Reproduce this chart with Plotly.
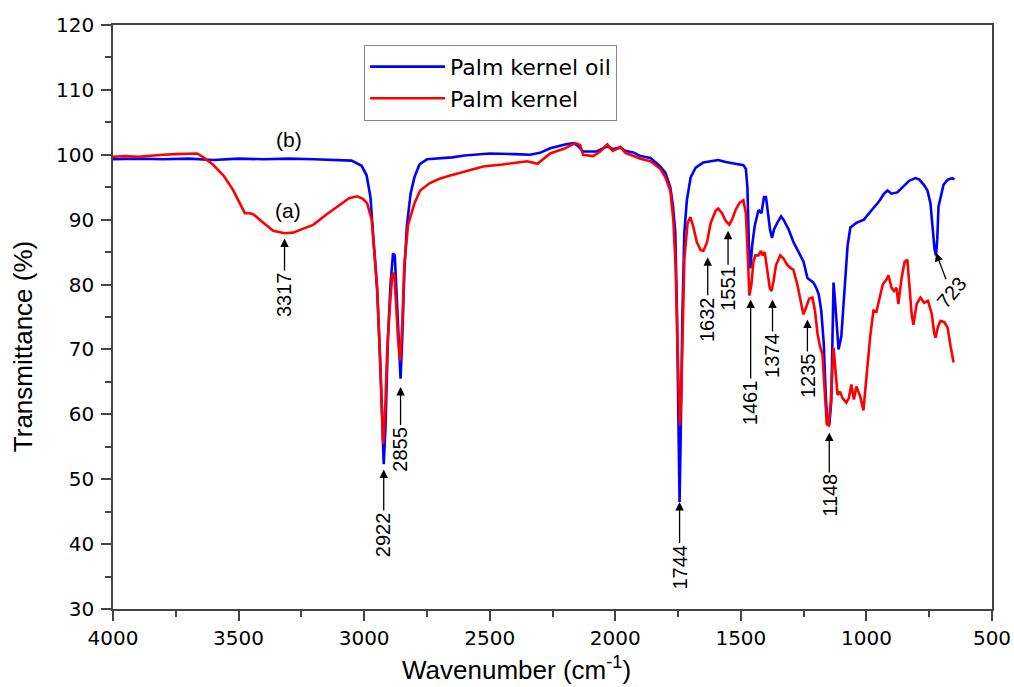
import plotly.graph_objects as go

# ---- Data ----
oil_wn = [4000, 3900, 3800, 3700, 3600, 3500, 3400, 3300, 3200, 3100, 3050, 3010, 2990, 2975, 2960,
          2948, 2936, 2928, 2922, 2915, 2905, 2895, 2885, 2878, 2870, 2862, 2855, 2848, 2840, 2830,
          2815, 2800, 2780, 2750, 2700, 2650, 2600, 2500, 2400, 2340, 2300, 2259, 2200, 2167, 2150,
          2128, 2075, 2050, 2032, 2010, 1980, 1960, 1926, 1900, 1860, 1821, 1800, 1781, 1770, 1761,
          1754, 1749, 1744, 1739, 1733, 1725, 1715, 1700, 1680, 1650, 1620, 1590, 1560, 1520, 1490,
          1480, 1474, 1468, 1462, 1455, 1445, 1430, 1418, 1408, 1400, 1392, 1384, 1376, 1368, 1355,
          1340, 1330, 1310, 1290, 1270, 1250, 1235, 1220, 1211, 1200, 1190, 1180, 1170, 1162, 1155,
          1148, 1140, 1135, 1131, 1126, 1120, 1111, 1100, 1090, 1075, 1064, 1040, 1010, 990, 972,
          950, 930, 916, 900, 877, 850, 830, 805, 790, 770, 757, 745, 735, 729, 723, 718, 713, 700,
          693, 675, 657, 650]
oil_t = [99.3, 99.4, 99.3, 99.4, 99.2, 99.4, 99.3, 99.4, 99.3, 99.2, 99.1, 98.3, 96.8, 93.5, 86,
         79, 68, 58, 52.3, 58, 72, 80, 84.8, 84.5, 78, 70, 65.5, 72, 82, 89,
         94, 96.5, 98.5, 99.3, 99.4, 99.6, 99.9, 100.2, 100.1, 100, 100.3, 101, 101.6, 101.8, 101.4,
         100.5, 100.5, 100.9, 101.3, 100.9, 101.1, 100.6, 100.3, 99.8, 99.5, 98.2, 97.2, 95, 92, 88,
         75, 60, 46.5, 58, 75, 88, 93, 96.5, 98, 98.8, 99, 99.2, 98.9, 98.6, 98.4,
         97.8, 95, 86, 82.5, 86, 89, 91.5, 91, 93.5, 93.5, 91, 88.5, 87.2, 88.5, 89.5,
         90.5, 90, 88.5, 86.5, 85, 83.5, 81, 80.5, 80.3, 79.5, 78.5, 76, 71, 63, 58.5,
         58.3, 62, 72, 80.3, 78, 74, 70, 72, 78, 86, 88.8, 89.5, 90, 91, 91.8,
         92.8, 94, 94.5, 94, 94.2, 95.3, 96, 96.4, 96.2, 95.3, 94.5, 92.5, 88.5, 85.5, 84.5, 87, 92, 94.5,
         95.4, 96.2, 96.4, 96.2]

kern_wn = [4000, 3950, 3900, 3850, 3800, 3750, 3700, 3665, 3640, 3602, 3560, 3522, 3495, 3475, 3455,
           3440, 3410, 3380, 3362, 3317, 3283, 3250, 3203, 3150, 3100, 3060, 3028, 3005, 2988, 2970,
           2955, 2948, 2938, 2930, 2924, 2917, 2908, 2897, 2888, 2880, 2872, 2864, 2856, 2848, 2840,
           2825, 2800, 2777, 2740, 2700, 2657, 2600, 2526, 2450, 2380, 2351, 2310, 2259, 2200, 2159,
           2140, 2128, 2088, 2060, 2032, 2010, 1980, 1960, 1940, 1900, 1860, 1820, 1800, 1781, 1769,
           1760, 1752, 1746, 1743, 1738, 1732, 1725, 1712, 1701, 1690, 1675, 1660, 1649, 1635, 1620,
           1600, 1590, 1575, 1560, 1546, 1535, 1520, 1505, 1490, 1480, 1472, 1466, 1458, 1450, 1442,
           1430, 1420, 1414, 1405, 1395, 1385, 1378, 1370, 1360, 1343, 1330, 1315, 1300, 1291, 1275,
           1260, 1251, 1240, 1228, 1215, 1205, 1195, 1185, 1175, 1165, 1158, 1150, 1142, 1131, 1125,
           1115, 1105, 1095, 1080, 1070, 1060, 1050, 1040, 1025, 1012, 1000, 985, 972, 960, 950,
           935, 920, 912, 900, 890, 880, 873, 860, 848, 837, 826, 820, 813, 800, 785,
           770, 755, 740, 730, 725, 715, 705, 690, 677, 665, 653]
kern_t = [99.7, 99.8, 99.7, 99.9, 100, 100.1, 100.2, 100.2, 99.6, 98.5, 96.8, 94.6, 92.5, 91, 91,
          90.8, 89.8, 88.8, 88.3, 87.9, 88, 88.5, 89.2, 90.8, 92.2, 93.3, 93.6, 93.2, 92.5, 90,
          83, 79.5, 70, 62, 55.4, 60, 70, 77, 81.5, 81.8, 76, 71, 68.3, 74, 83,
          89.2, 92.5, 94.5, 95.6, 96.3, 96.8, 97.4, 98.2, 98.5, 98.8, 99, 98.6, 100.2, 101, 101.8,
          101.5, 100, 99.8, 100.5, 101.6, 100.6, 101.2, 100.3, 100, 99.4, 99, 97.8, 96.5, 94.5, 90,
          83, 70, 59, 58.3, 62, 72, 84, 89.5, 90.4, 89, 86.5, 85.3, 85.2, 86.5, 89.5,
          91.4, 91.7, 91, 89.8, 89.2, 90, 91.6, 92.6, 93, 91, 84, 78.3, 80, 83.5, 84.5,
          84.5, 85.2, 84.5, 85, 82.5, 79.5, 79, 80.5, 83, 84.5, 84, 83, 82.5, 82.3, 80,
          77, 75.4, 76.5, 77.8, 78, 76, 72.5, 70.5, 69.2, 63, 58.5, 58.3, 62, 70.3, 67,
          63, 63.5, 62.5, 61.8, 62.5, 64.6, 62.3, 64.3, 62.8, 60.6, 66, 72, 76, 75.8, 77.5,
          80, 80.8, 81.4, 79.5, 79, 79.5, 77, 81, 83.5, 83.8, 79, 75.5, 73.8, 77, 78,
          77.2, 77.5, 75.5, 72.5, 71.8, 73.5, 74.4, 74.2, 73.4, 70.5, 68]

peak_labels = ["3317", "2922", "2855", "1744", "1632", "1551", "1461", "1374", "1235", "1148", "723"]
peak_wn = [3317, 2922, 2855, 1744, 1632, 1551, 1461, 1374, 1235, 1148, 723]
peak_t = [87.1, 51.5, 64.2, 46.5, 84.2, 88.3, 77.7, 77.7, 74.6, 57.2, 84.9]
peak_offset = [56, 65, 62, 65, 62, 58, 103, 56, 56, 63, 40]

x_ticks = [4000, 3500, 3000, 2500, 2000, 1500, 1000, 500]
y_ticks = [30, 40, 50, 60, 70, 80, 90, 100, 110, 120]

FONT = "Liberation Sans, Arial, sans-serif"
WIDE = "DejaVu Sans, Verdana, sans-serif"
AXC = "#444444"

fig = go.Figure()
fig.add_trace(go.Scatter(x=oil_wn, y=oil_t, mode="lines", name="Palm kernel oil",
                         line=dict(color="#0000FF", width=2.6)))
fig.add_trace(go.Scatter(x=kern_wn, y=kern_t, mode="lines", name="Palm kernel",
                         line=dict(color="#FF0000", width=2.6)))

annotations = []
for lab, wx, wy, off in zip(peak_labels, peak_wn, peak_t, peak_offset):
    if lab == "723":
        annotations.append(dict(x=wx, y=wy, xref="x", yref="y", text=lab, showarrow=True,
                                ax=15, ay=off, textangle=-50, arrowhead=2, arrowsize=1.3,
                                arrowwidth=1.3, arrowcolor="black", standoff=0,
                                font=dict(family=FONT, size=20, color="black")))
    else:
        annotations.append(dict(x=wx, y=wy, xref="x", yref="y", text=lab, showarrow=True,
                                ax=0, ay=off, textangle=-90, arrowhead=2, arrowsize=1.3,
                                arrowwidth=1.3, arrowcolor="black", standoff=0,
                                font=dict(family=FONT, size=20, color="black")))

annotations.append(dict(x=3300, y=102.3, xref="x", yref="y", text="(b)", showarrow=False,
                        font=dict(family=FONT, size=21, color="black")))
annotations.append(dict(x=3305, y=91.4, xref="x", yref="y", text="(a)", showarrow=False,
                        font=dict(family=FONT, size=21, color="black")))

# axis titles, placed to match the reference
annotations.append(dict(x=0.4585, y=-0.071, xref="paper", yref="paper", xanchor="center",
                        yanchor="top", text="Wavenumber (cm<sup>-1</sup>)", showarrow=False,
                        font=dict(family=FONT, size=26, color="black")))
annotations.append(dict(x=-0.1024, y=0.45, xref="paper", yref="paper", xanchor="center",
                        yanchor="middle", text="Transmittance (%)", textangle=-90, showarrow=False,
                        font=dict(family=FONT, size=26, color="black")))

axis_common = dict(showgrid=False, zeroline=False, showline=True, linecolor=AXC,
                   linewidth=1.5, mirror=True, ticks="outside", ticklen=10, tickwidth=1.5,
                   tickcolor=AXC, automargin=False,
                   tickfont=dict(family=WIDE, size=20, color="black"))

fig.update_layout(
    width=1014, height=687,
    margin=dict(l=113, r=22, t=25, b=78),
    paper_bgcolor="white", plot_bgcolor="white",
    font=dict(family=FONT, color="black"),
    xaxis=dict(range=[4000, 500], tickvals=x_ticks, ticklabelstandoff=0,
               minor=dict(ticks="outside", ticklen=6, dtick=250, tickcolor=AXC, tickwidth=1.5),
               **axis_common),
    yaxis=dict(range=[30, 120], tickvals=y_ticks, ticklabelstandoff=3,
               minor=dict(ticks="outside", ticklen=6, dtick=5, tickcolor=AXC, tickwidth=1.5),
               **axis_common),
    legend=dict(x=0.2856, y=0.966, xanchor="left", yanchor="top",
                bgcolor="white", bordercolor="#888888", borderwidth=1,
                font=dict(family=WIDE, size=22, color="black"),
                itemwidth=75, tracegroupgap=0),
    annotations=annotations,
    showlegend=True,
)

fig.write_html("out.html", config={"displayModeBar": False},
               post_script="document.body.style.margin='0';")
